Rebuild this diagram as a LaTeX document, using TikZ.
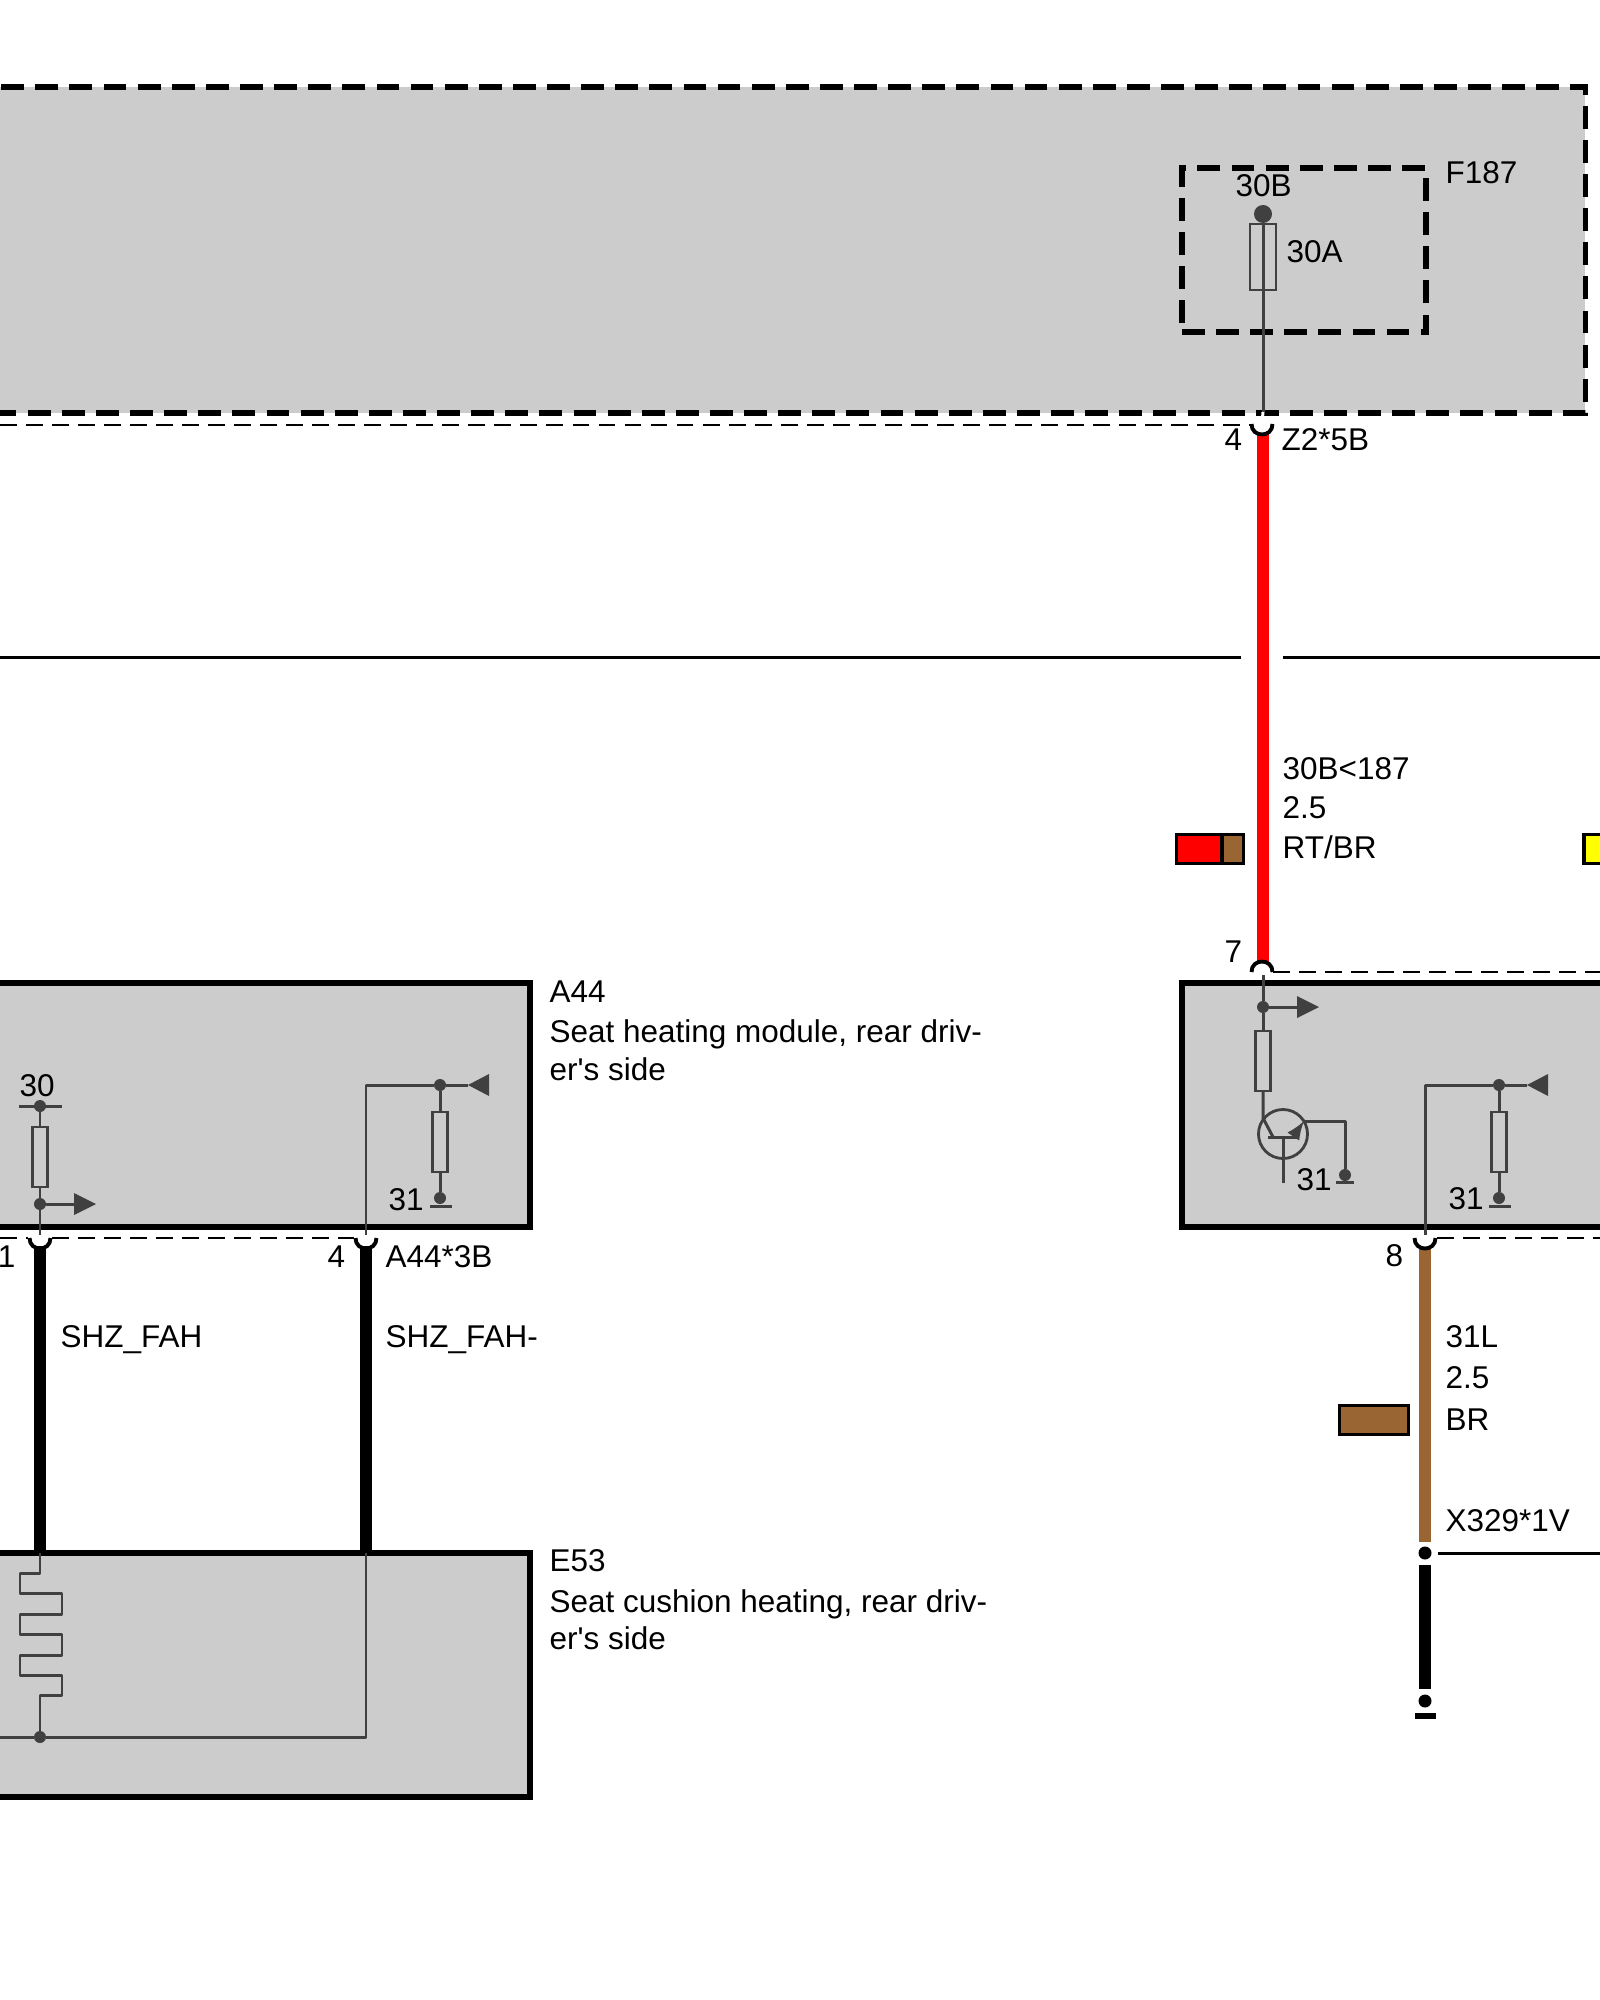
\documentclass[tikz,border=0pt]{standalone}
\usepackage{fontspec}
\setmainfont{Liberation Sans}
\definecolor{boxgray}{HTML}{CCCCCC}
\definecolor{inkgray}{HTML}{404040}
\definecolor{wirered}{HTML}{FF0000}
\definecolor{wirebrown}{HTML}{996633}
\definecolor{wireyellow}{HTML}{FFFF00}
\tikzset{
  modbox/.style={draw=black,fill=boxgray,line width=1.6pt,inner sep=0pt,outer sep=0pt},
  dashbox/.style={modbox,dash pattern=on 6.5pt off 3.2pt},
  sigline/.style={draw=inkgray,line width=.85pt,line join=round},
  dashline/.style={draw=black,line width=.8pt,dash pattern=on 4.8pt off 2.6pt},
  wire/.style={line width=3.4pt},
  res/.style={draw=inkgray,line width=.8pt,inner sep=0pt,outer sep=0pt,minimum width=.15cm,minimum height=.6cm},
  dotn/.style={circle,fill=inkgray,inner sep=0pt,outer sep=0pt,minimum size=.12cm},
  blackdot/.style={circle,fill=black,inner sep=0pt,outer sep=0pt,minimum size=.13cm},
  swatch/.style={draw=black,line width=.95pt,inner sep=0pt,outer sep=0pt,minimum height=.29cm},
  lbl/.style={anchor=base west,inner sep=0pt,font=\fontsize{8.95}{10}\selectfont},
  pinup/.pic={\draw[black,line width=1.1pt] (-10.5,0) .. controls (-10.5,-14) and (10.5,-14) .. (10.5,0);},
  pindown/.pic={\draw[black,line width=1.1pt] (-10.5,0) .. controls (-10.5,14) and (10.5,14) .. (10.5,0);}
}

\begin{document}
\begin{tikzpicture}[x=.01cm,y=-.01cm]
        \clip (0,0) rectangle (1600,2000);

        \node[dashbox,minimum width=16.25cm,minimum height=3.26cm] (Main) at (772.5,250) {};
        \node[modbox,minimum width=6cm,minimum height=2.44cm] (A44) at (230,1105) {};
        \node[modbox,minimum width=6cm,minimum height=2.44cm] (Ctrl) at (1482,1105) {};
        \node[modbox,minimum width=6cm,minimum height=2.44cm] (E53) at (230,1675) {};
        \node[dashbox,fill=none,minimum width=2.44cm,minimum height=1.64cm] (F187) at (1304,250) {};

        \node[dotn,minimum size=.18cm] (Fa) at (1263,214) {};
        \node[res,minimum width=.26cm,minimum height=.66cm] (Fuse) at (1263,257) {};
        \coordinate (Ptop) at (1263,412);
        \draw[sigline] (Fa) -- (Ptop);
        \coordinate (PinZ) at (1262,424);
        \coordinate (PinZb) at (1263,433);
        \coordinate (PinS) at (1263,963);
        \draw[wire,wirered] (PinZb) -- (PinS);
        \draw[white,line width=.85pt] (Ptop) -- (PinZ);
        \pic at (PinZ) {pindown};
        \coordinate (PinT) at (1262,972);
        \pic at (PinT) {pinup};
        \coordinate (DashA) at (0,425);
        \coordinate (DashB) at (1251,425);
        \draw[dashline] (DashA) -- (DashB);
        \coordinate (DashC) at (1273,972);
        \coordinate (DashD) at (1600,972);
        \draw[dashline] (DashC) -- (DashD);

        \coordinate (SepA) at (0,657);
        \coordinate (SepB) at (1241,657);
        \coordinate (SepC) at (1283,657);
        \coordinate (SepD) at (1600,657);
        \draw[black,line width=.85pt] (SepA) -- (SepB);
        \draw[black,line width=.85pt] (SepC) -- (SepD);

        \node[swatch,fill=wirered,minimum width=.455cm] (SwR) at (1199,849) {};
        \node[swatch,fill=wirebrown,minimum width=.215cm] (SwB) at (1233,849) {};
        \node[swatch,fill=wireyellow,minimum width=.6cm] (SwY) at (1614,849) {};

        \coordinate (CtrlIn) at (1263,975);
        \node[dotn] (Cj) at (1263,1007) {};
        \node[res] (Cr) at (1263,1061) {};
        \coordinate (Carr) at (1297,1007);
        \coordinate (Carr1) at (1297,996);
        \coordinate (Carr2) at (1319,1007);
        \coordinate (Carr3) at (1297,1018);
        \draw[sigline] (CtrlIn) -- (Cj);
        \draw[sigline] (Cj) -- (Cr);
        \draw[sigline] (Cj) -- (Carr);
        \fill[inkgray] (Carr1) -- (Carr2) -- (Carr3) -- cycle;
        \node[circle,draw=inkgray,line width=.8pt,inner sep=0pt,minimum size=.49cm] (Tr) at (1283,1134) {};
        \coordinate (TrC) at (1263,1118);
        \coordinate (TrD) at (1273,1137);
        \coordinate (TrL) at (1268,1137);
        \coordinate (TrR) at (1298,1137);
        \coordinate (TrM) at (1283,1137);
        \coordinate (TrB) at (1283,1183);
        \coordinate (TrE) at (1293,1137);
        \coordinate (TrF) at (1304,1121);
        \coordinate (TrG) at (1345,1121);
        \node[dotn] (Tg) at (1345,1175) {};
        \coordinate (TgL) at (1336,1182);
        \coordinate (TgR) at (1354,1182);
        \draw[sigline] (Cr) -- (TrC) -- (TrD);
        \draw[sigline] (TrL) -- (TrR);
        \draw[sigline] (TrM) -- (TrB);
        \draw[sigline,-latex] (TrE) -- (TrF);
        \draw[sigline] (TrF) -- (TrG) -- (Tg);
        \draw[sigline] (TgL) -- (TgR);

        \coordinate (Lc) at (1425,1085);
        \coordinate (Ld) at (1425,1235);
        \node[dotn] (Lj) at (1499,1085) {};
        \coordinate (Larr) at (1527,1085);
        \coordinate (Larr1) at (1548,1074);
        \coordinate (Larr3) at (1548,1096);
        \node[res] (Lr) at (1499,1142) {};
        \node[dotn] (Lg) at (1499,1198) {};
        \coordinate (LgL) at (1489,1206);
        \coordinate (LgR) at (1511,1206);
        \draw[sigline] (Ld) -- (Lc) -- (Lj);
        \draw[sigline] (Lj) -- (Larr);
        \fill[inkgray] (Larr) -- (Larr1) -- (Larr3) -- cycle;
        \draw[sigline] (Lj) -- (Lr);
        \draw[sigline] (Lr) -- (Lg);
        \draw[sigline] (LgL) -- (LgR);

        \coordinate (Pin8) at (1425,1238);
        \coordinate (DashE) at (1437,1238);
        \coordinate (DashF) at (1600,1238);
        \draw[dashline] (DashE) -- (DashF);
        \coordinate (Pin8b) at (1425,1248);
        \node[blackdot] (Xa) at (1425,1553) {};
        \node[blackdot] (Xb) at (1425,1701) {};
        \coordinate (Xa1) at (1425,1542);
        \coordinate (Xa2) at (1425,1565);
        \coordinate (Xb1) at (1425,1689);
        \coordinate (XbL) at (1415,1716);
        \coordinate (XbR) at (1436,1716);
        \coordinate (XaR) at (1438,1553);
        \coordinate (XaE) at (1600,1553);
        \draw[wire,wirebrown] (Pin8b) -- (Xa1);
        \pic at (Pin8) {pindown};
        \draw[wire,black] (Xa2) -- (Xb1);
        \draw[black,line width=1.5pt] (XbL) -- (XbR);
        \draw[black,line width=.85pt] (XaR) -- (XaE);
        \node[swatch,fill=wirebrown,minimum width=.69cm] (SwBr) at (1374,1420) {};

        \node[dotn] (Aa) at (40,1106) {};
        \coordinate (AaL) at (19,1106);
        \coordinate (AaR) at (62,1106);
        \node[res] (Ar) at (40,1157) {};
        \node[dotn] (Aj) at (40,1204) {};
        \coordinate (Aarr) at (74,1204);
        \coordinate (Aarr1) at (74,1193);
        \coordinate (Aarr2) at (96,1204);
        \coordinate (Aarr3) at (74,1215);
        \coordinate (Aout) at (40,1235);
        \draw[sigline] (AaL) -- (AaR);
        \draw[sigline] (Aa) -- (Ar);
        \draw[sigline] (Ar) -- (Aj);
        \draw[sigline] (Aj) -- (Aout);
        \draw[sigline] (Aj) -- (Aarr);
        \fill[inkgray] (Aarr1) -- (Aarr2) -- (Aarr3) -- cycle;

        \coordinate (Bc) at (366,1085);
        \coordinate (Bd) at (366,1235);
        \node[dotn] (Bj) at (440,1085) {};
        \coordinate (Barr) at (468,1085);
        \coordinate (Barr1) at (489,1074);
        \coordinate (Barr3) at (489,1096);
        \node[res] (Br) at (440,1142) {};
        \node[dotn] (Bg) at (440,1198) {};
        \coordinate (BgL) at (430,1206);
        \coordinate (BgR) at (452,1206);
        \draw[sigline] (Bd) -- (Bc) -- (Bj);
        \draw[sigline] (Bj) -- (Barr);
        \fill[inkgray] (Barr) -- (Barr1) -- (Barr3) -- cycle;
        \draw[sigline] (Bj) -- (Br);
        \draw[sigline] (Br) -- (Bg);
        \draw[sigline] (BgL) -- (BgR);

        \coordinate (Pin1) at (40,1238);
        \coordinate (Pin4) at (366,1238);
        \coordinate (DashG) at (0,1238);
        \coordinate (DashH) at (28,1238);
        \coordinate (DashI) at (52,1238);
        \coordinate (DashJ) at (354,1238);
        \draw[dashline] (DashG) -- (DashH);
        \draw[dashline] (DashI) -- (DashJ);
        \coordinate (Pin1b) at (40,1246);
        \coordinate (Pin4b) at (366,1246);
        \coordinate (Ea) at (40,1553);
        \coordinate (Eb) at (366,1553);
        \draw[wire,black] (Pin1b) -- (Ea);
        \draw[wire,black] (Pin4b) -- (Eb);
        \pic at (Pin1) {pindown};
        \pic at (Pin4) {pindown};

        \node[dotn] (Ej) at (40,1737) {};
        \coordinate (El) at (0,1737);
        \draw[sigline] (Ea) -- (40,1573) -- (20,1573) -- (20,1593) -- (62,1593) -- (62,1614) -- (20,1614) -- (20,1634) -- (62,1634) -- (62,1655) -- (20,1655) -- (20,1675) -- (62,1675) -- (62,1695) -- (40,1695) -- (Ej);
        \draw[sigline] (El) -- (Ej) -- (366,1737) -- (Eb);

        \node[lbl] (tF187) at (1445,183) {F187};
        \node[lbl] (t30B) at (1235,196) {30B};
        \node[lbl] (t30A) at (1286,262) {30A};
        \node[lbl] (tp4) at (1224,450) {4};
        \node[lbl] (tZ2) at (1281,450) {Z2*5B};
        \node[lbl] (tw1) at (1282,779) {30B<187};
        \node[lbl] (tw2) at (1282,818) {2.5};
        \node[lbl] (tw3) at (1282,858) {RT/BR};
        \node[lbl] (tp7) at (1224,962) {7};
        \node[lbl] (tc31) at (1296,1190) {31};
        \node[lbl] (tl31) at (1448,1209) {31};
        \node[lbl] (tp8) at (1385,1266) {8};
        \node[lbl] (tb1) at (1445,1347) {31L};
        \node[lbl] (tb2) at (1445,1388) {2.5};
        \node[lbl] (tb3) at (1445,1430) {BR};
        \node[lbl] (tX) at (1445,1531) {X329*1V};
        \node[lbl] (tA1) at (549,1002) {A44};
        \node[lbl] (tA2) at (549,1042) {Seat heating module, rear driv-};
        \node[lbl] (tA3) at (549,1080) {er\textquotesingle s side};
        \node[lbl] (tE1) at (549,1571) {E53};
        \node[lbl] (tE2) at (549,1612) {Seat cushion heating, rear driv-};
        \node[lbl] (tE3) at (549,1649) {er\textquotesingle s side};
        \node[lbl] (t30) at (19,1096) {30};
        \node[lbl] (tb31) at (388,1210) {31};
        \node[lbl,anchor=base east] (tp1) at (16,1267) {1};
        \node[lbl] (tp44) at (327,1267) {4};
        \node[lbl] (tA44) at (385,1267) {A44*3B};
        \node[lbl] (tS1) at (60,1347) {SHZ\_FAH};
        \node[lbl] (tS2) at (385,1347) {SHZ\_FAH-};
\end{tikzpicture}
\end{document}
